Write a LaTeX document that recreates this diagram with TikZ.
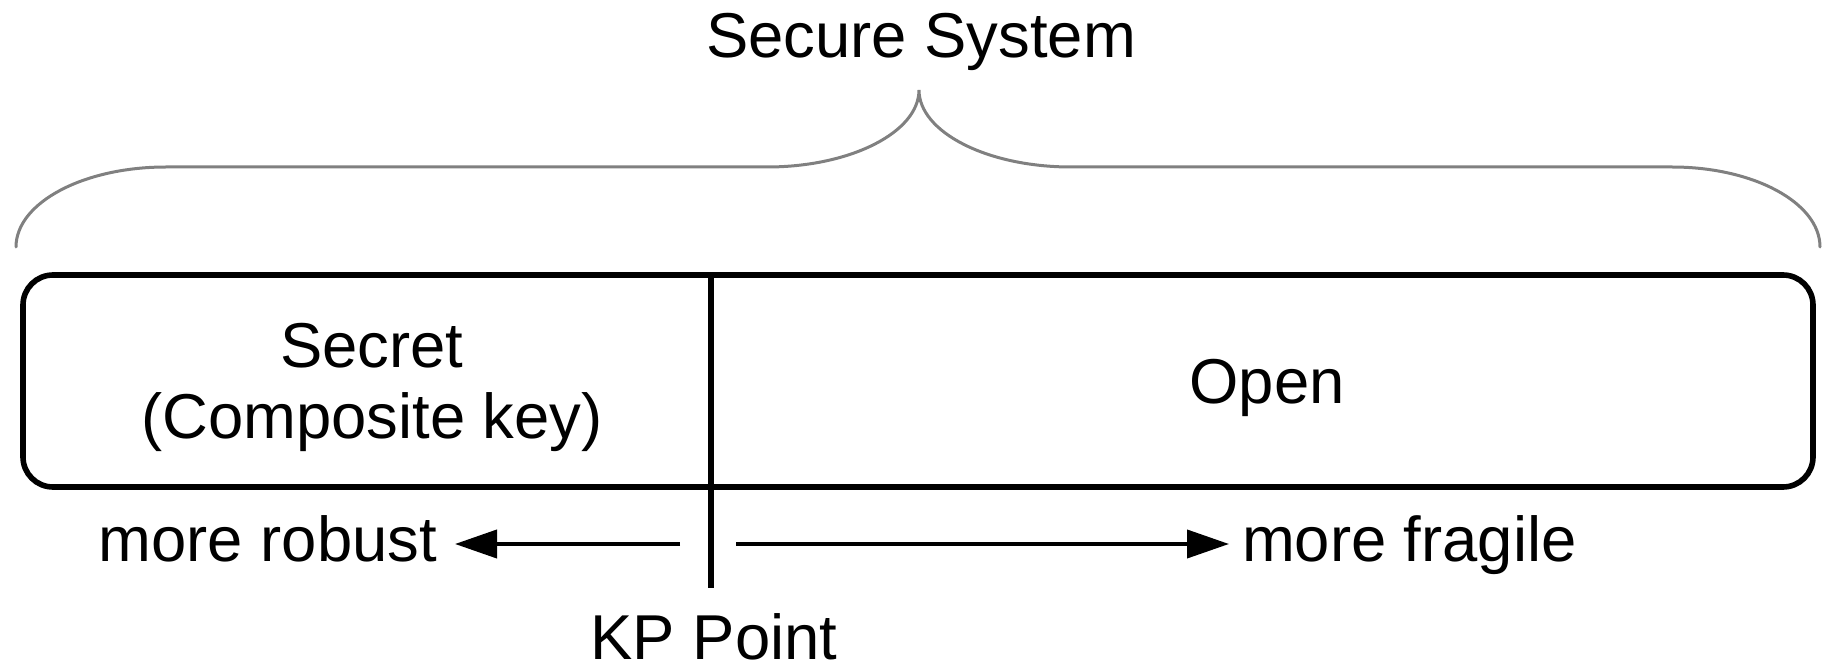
\documentclass[tikz,border=0pt]{standalone}
\usepackage{fontspec}
\setmainfont{Liberation Sans}
\usetikzlibrary{arrows.meta}
\definecolor{bracegray}{RGB}{128,128,128}
\begin{document}
\begin{tikzpicture}[x=0.5pt,y=-0.5pt,
  lbl/.style={inner sep=0pt, outer sep=0pt, font=\fontsize{31.7pt}{35.5pt}\selectfont},
  boxline/.style={line width=2.8pt},
  arr/.style={line width=2pt, -{Triangle[length=21pt,width=14pt]}},
  bracestyle/.style={line width=1.5pt, draw=bracegray, line cap=round}]
\useasboundingbox (0,0) rectangle (1822,668);

% brace
\coordinate (bl) at (16,247);
\coordinate (br) at (1820,247);
\coordinate (btip) at (919,90);
\draw[bracestyle] (bl) .. controls (16,203) and (83,167) .. (166,167)
  -- (767,167) .. controls (851,167) and (919,132) .. (btip)
  .. controls (919,132) and (987,167) .. (1071,167)
  -- (1672,167) .. controls (1754,167) and (1820,203) .. (br);
\node[lbl, anchor=base] (title) at (921,58) {Secure System};

% main box
\node[draw, boxline, rounded corners=15pt, minimum width=895pt,
      minimum height=106pt, inner sep=0pt, outer sep=0pt] (sys) at (918,381) {};
\node[lbl, align=center] (secret) at (372,387) {Secret\\(Composite key)};
\node[lbl, anchor=base] (open) at (1267,403) {Open};

% KP divider
\coordinate (kptop) at (711,275);
\coordinate (kpbot) at (711,588);
\draw[boxline] (kptop) -- (kpbot);
\node[lbl, anchor=base] (kp) at (714,659) {KP Point};

% arrows
\node[lbl, anchor=base east] (robust) at (437,561) {more robust};
\node[lbl, anchor=base west] (fragile) at (1242,561) {more fragile};
\coordinate (ls) at (680,544);
\coordinate (lt) at (455,544);
\coordinate (rs) at (736,544);
\coordinate (rt) at (1229,544);
\draw[arr] (ls) -- (lt);
\draw[arr] (rs) -- (rt);
\end{tikzpicture}
\end{document}
